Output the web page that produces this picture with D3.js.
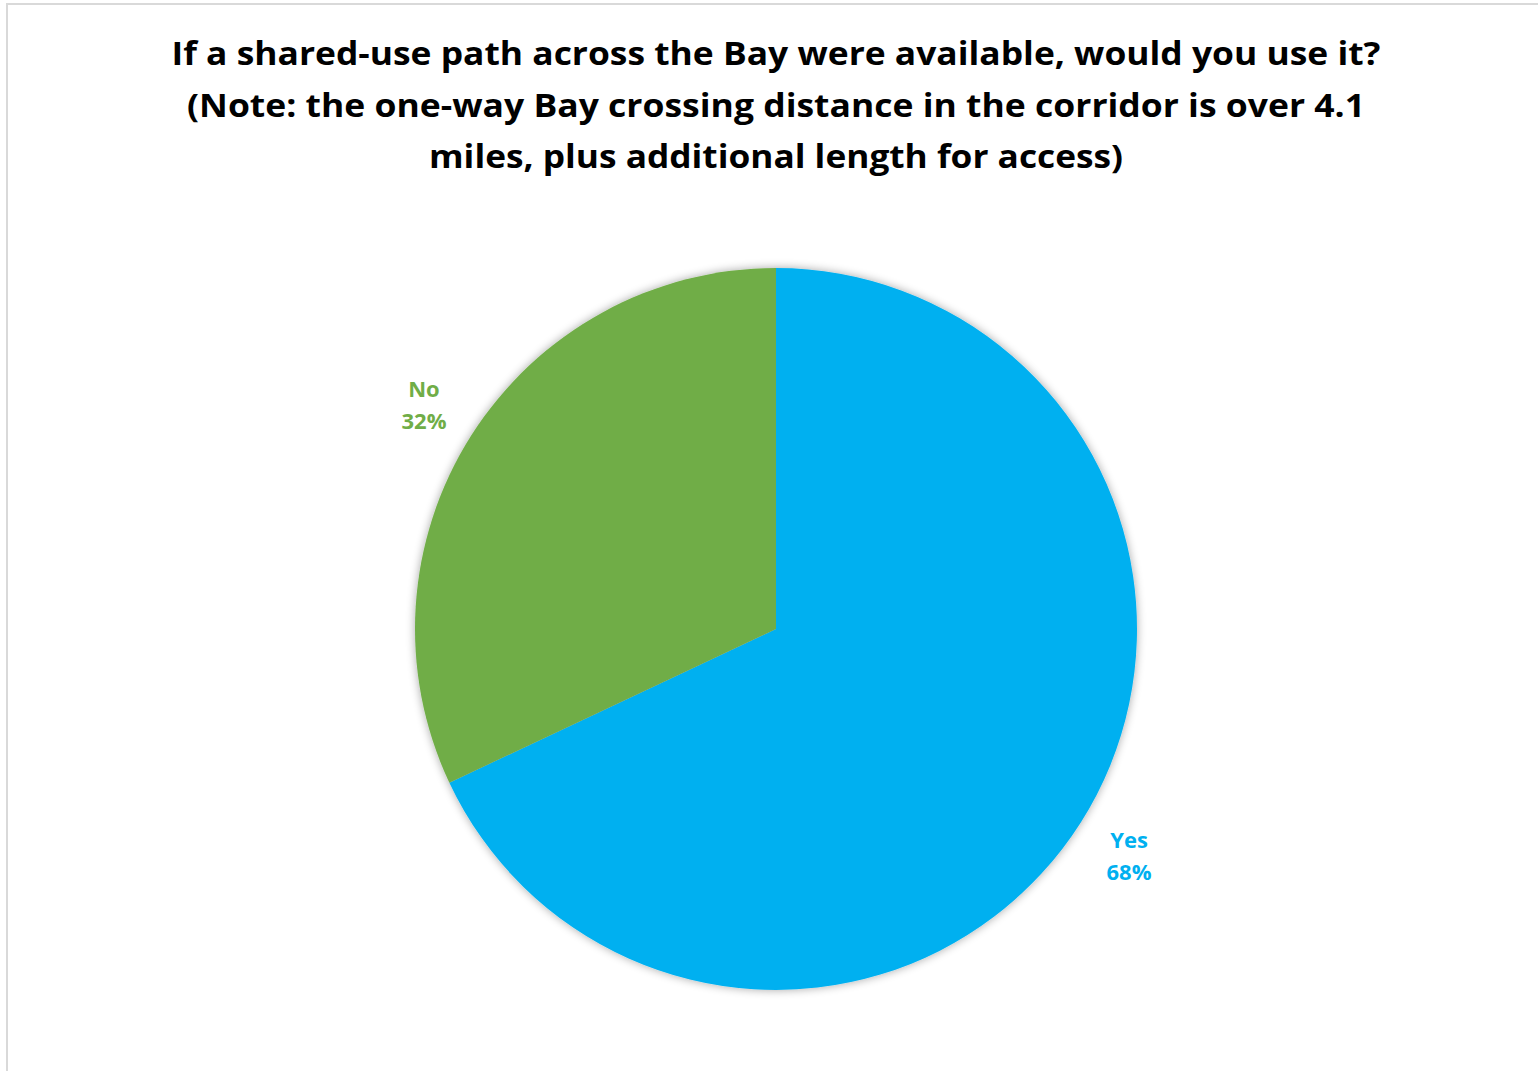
<!DOCTYPE html>
<html><head><meta charset="utf-8">
<script src="https://cdn.jsdelivr.net/npm/d3@7"></script>
<style>html,body{margin:0;padding:0;background:#fff;overflow:hidden}</style>
</head><body>
<svg id="c" width="1538" height="1071"></svg>
<script>
const categories = ["Yes", "No"];
const values = [68, 32];
const colors = ["#00B0F0", "#70AD47"];
const titleLines = [
  "If a shared-use path across the Bay were available, would you use it?",
  "(Note: the one-way Bay crossing distance in the corridor is over 4.1",
  "miles, plus additional length for access)"
];
const titleWidths = [1209, 1178, 694];

const svg = d3.select("#c");
svg.append("rect").attr("x", 7).attr("y", 4).attr("width", 1540).attr("height", 1080)
  .attr("fill", "#fff").attr("stroke", "#d9d9d9").attr("stroke-width", 2);

const defs = svg.append("defs");
const f = defs.append("filter").attr("id", "sh").attr("x", "-10%").attr("y", "-10%").attr("width", "120%").attr("height", "120%");
f.append("feGaussianBlur").attr("in", "SourceAlpha").attr("stdDeviation", 5);
f.append("feOffset").attr("dx", 0).attr("dy", 0).attr("result", "b");
f.append("feComponentTransfer").append("feFuncA").attr("type", "linear").attr("slope", 0.35);
const m = f.append("feMerge"); m.append("feMergeNode"); m.append("feMergeNode").attr("in", "SourceGraphic");

const title = svg.append("g");
titleLines.forEach((t, i) => {
  title.append("text").attr("x", 776).attr("y", 65 + i * 51.5)
    .attr("text-anchor", "middle").attr("font-family", "Open Sans, sans-serif")
    .attr("font-weight", "bold").attr("font-size", 33).attr("fill", "#000")
    .attr("textLength", titleWidths[i]).attr("lengthAdjust", "spacingAndGlyphs")
    .text(t);
});

const cx = 776, cy = 629, r = 361;
const pie = d3.pie().sort(null).value(d => d.v);
const data = pie(categories.map((c, i) => ({c, v: values[i], col: colors[i]})));
const arc = d3.arc().innerRadius(0).outerRadius(r);
const g = svg.append("g").attr("transform", `translate(${cx},${cy})`);
g.append("g").attr("filter", "url(#sh)").selectAll("path").data(data).join("path")
  .attr("d", arc).attr("fill", d => d.data.col);

const labelPos = {Yes: [1129, 848], No: [424, 397]};
data.forEach(d => {
  const [x, y] = labelPos[d.data.c];
  const t = svg.append("text").attr("x", x).attr("y", y).attr("text-anchor", "middle")
    .attr("font-family", "Open Sans, sans-serif").attr("font-weight", "bold")
    .attr("font-size", 22).attr("fill", d.data.col);
  t.append("tspan").attr("x", x).attr("dy", 0).text(d.data.c);
  t.append("tspan").attr("x", x).attr("dy", 32).text(d.data.v + "%");
});
</script>
</body></html>
